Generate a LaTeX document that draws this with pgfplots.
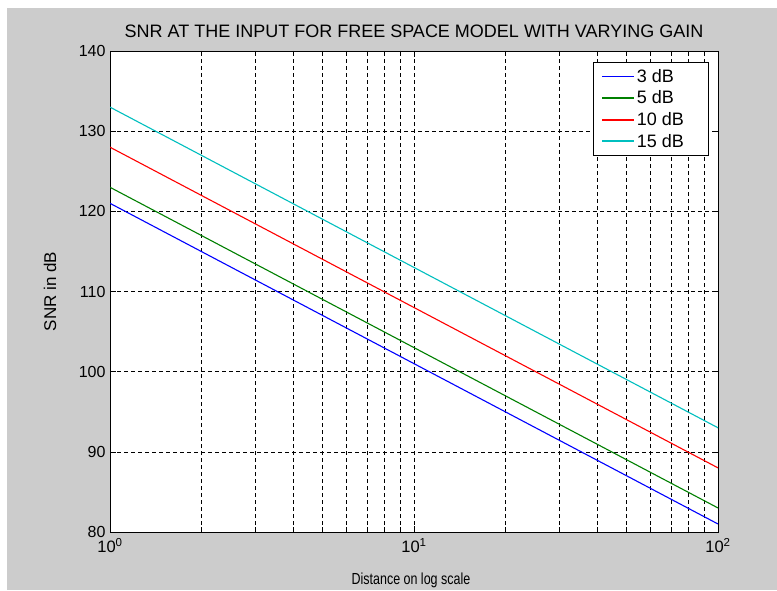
\documentclass[border=0pt]{standalone}
\usepackage{pgfplots}
\pgfplotsset{compat=1.18}
\usepackage{fontspec}
\setmainfont{Liberation Sans}
\newfontfamily\narrowfont{Liberation Sans}[FakeStretch=0.78]
\definecolor{figgray}{RGB}{204,204,204}
\definecolor{mblue}{RGB}{0,0,255}
\definecolor{mgreen}{RGB}{0,128,0}
\definecolor{mred}{RGB}{255,0,0}
\definecolor{mcyan}{RGB}{0,191,191}
\begin{document}
\begin{tikzpicture}[x=1pt,y=1pt]
\fill[white] (0,0) rectangle (777,590);
\fill[figgray] (7,0) rectangle (777,582);
\begin{axis}[
  at={(110pt,58pt)}, anchor=south west,
  scale only axis, width=608pt, height=481pt,
  xmode=log, log basis x=10,
  xmin=1, xmax=100, ymin=80, ymax=140,
  ytick={80,90,...,140},
  xtick={1,10,100},
  minor xtick={2,3,4,5,6,7,8,9,20,30,40,50,60,70,80,90},
  xticklabels={10\textsuperscript{0},10\textsuperscript{1},10\textsuperscript{2}},
  axis background/.style={fill=white},
  axis line style={black, line width=0.8pt},
  tick align=inside, tick pos=both,
  major tick length=6pt, minor tick length=5pt,
  tick style={black, line width=0.6pt},
  xmajorgrids, xminorgrids, ymajorgrids,
  grid style={black, line width=0.6pt, dash pattern=on 4pt off 3pt},
  minor grid style={black, line width=0.6pt, dash pattern=on 4pt off 3pt},
  /pgf/number format/assume math mode=true,
  yticklabel style={font=\fontsize{16}{18}\selectfont, xshift=-1pt},
  xticklabel style={font=\fontsize{16.5}{18}\selectfont, yshift=-3pt},
  title={SNR AT THE INPUT FOR FREE SPACE MODEL WITH VARYING GAIN},
  title style={font=\fontsize{18}{20}\selectfont, at={(axis description cs:0.5,1)}, anchor=south, yshift=4pt},
  xlabel={Distance on log scale},
  xlabel style={font=\narrowfont\fontsize{16}{18}\selectfont, at={(axis description cs:0.495,0)}, anchor=north, yshift=-37pt},
  ylabel={SNR in dB},
  ylabel style={font=\fontsize{17}{19}\selectfont, at={(axis description cs:-0.0985,0.5)}, anchor=center},
  legend style={at={(axis description cs:0.984,0.977)}, anchor=north east,
    line width=0.6pt, fill=white, font=\fontsize{18}{20}\selectfont,
    row sep=3pt, inner xsep=8pt, inner ysep=5pt},
  legend cell align=left,
  legend image code/.code={\draw[line width=1.6pt, #1] (0pt,0pt) -- (32pt,0pt);},
]
\addplot[mblue, line width=1.1pt] coordinates {(1,121) (10,101) (100,81)};
\addplot[mgreen, line width=1.1pt] coordinates {(1,123) (10,103) (100,83)};
\addplot[mred, line width=1.1pt] coordinates {(1,128) (10,108) (100,88)};
\addplot[mcyan, line width=1.1pt] coordinates {(1,133) (10,113) (100,93)};
\legend{3 dB\hspace*{14pt}, 5 dB\hspace*{14pt}, 10 dB\hspace*{14pt}, 15 dB\hspace*{14pt}}
\end{axis}
\pgfresetboundingbox
\useasboundingbox (0,0) rectangle (777,590);
\end{tikzpicture}
\end{document}
